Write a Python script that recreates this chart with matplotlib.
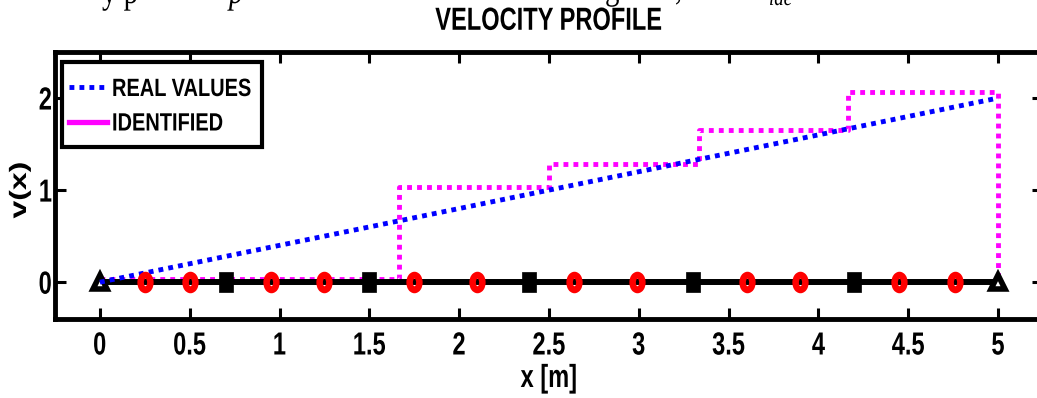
import numpy as np
import matplotlib
matplotlib.use('Agg')
import matplotlib.pyplot as plt
from matplotlib.path import Path
from matplotlib.lines import Line2D
from matplotlib.patches import Rectangle
from matplotlib.patheffects import AbstractPathEffect
from matplotlib.transforms import Affine2D

# ---------------- data ----------------
real_x = [0.0, 5.0]
real_v = [0.0, 2.0]
ident_edges = [0.0, 0.833, 1.667, 2.5, 3.333, 4.167, 5.0]
ident_vals = [0.03, 0.03, 1.03, 1.28, 1.65, 2.07]
boundary_x = [0.0, 5.0]
square_x = [0.70, 1.50, 2.39, 3.30, 4.20]
circle_x = [0.25, 0.50, 0.95, 1.25, 1.75, 2.10, 2.64, 2.99, 3.60, 3.90, 4.45, 4.76]
xticks = [0, 0.5, 1, 1.5, 2, 2.5, 3, 3.5, 4, 4.5, 5]
xticklabels = ['0', '0.5', '1', '1.5', '2', '2.5', '3', '3.5', '4', '4.5', '5']
yticks = [0, 1, 2]
yticklabels = ['0', '1', '2']
legend_labels = ['REAL VALUES', 'IDENTIFIED']
title = 'VELOCITY PROFILE'
xlabel = 'x [m]'
ylabel = 'v(x)'


class Squeeze(AbstractPathEffect):
    """Render text condensed (narrower glyphs), like the reference's squeezed type."""

    def __init__(self, sx=1.0, sy=1.0, frac=0.5):
        super().__init__()
        self.sx, self.sy, self.frac = sx, sy, frac

    def draw_path(self, renderer, gc, tpath, affine, rgbFace=None):
        try:
            ext = tpath.get_extents()
            w = ext.x1 if np.isfinite(ext.x1) else 0.0
        except Exception:
            w = 0.0
        pre = Affine2D().scale(self.sx, self.sy).translate((1 - self.sx) * w * self.frac, 0)
        renderer.draw_path(gc, tpath, pre + affine, rgbFace)


SQ = 0.74
FONT = ['Liberation Sans', 'DejaVu Sans']
plt.rcParams['font.family'] = FONT
plt.rcParams['font.weight'] = 'bold'

W, H = 1037, 398
fig = plt.figure(figsize=(W / 100, H / 100), dpi=100)
L, R, T, B = 55, 1043, 52, 319
ax = fig.add_axes([L / W, 1 - B / H, (R - L) / W, (B - T) / H])
ax.set_xlim(-0.25, 5.25)
ax.set_ylim(-0.4, 2.5)

DOT_LW = 3.5
DOTS = (1, 1.05)

# identified step profile
sx, sy = [], []
for i, v in enumerate(ident_vals):
    sx += [ident_edges[i], ident_edges[i + 1]]
    sy += [v, v]
sx.append(ident_edges[-1])
sy.append(0.0)
ax.plot(sx, sy, color='#ff00ff', lw=DOT_LW, dashes=DOTS, zorder=2)

# boundary line
ax.plot(boundary_x, [0, 0], color='k', lw=4.3, solid_capstyle='butt', zorder=3)

# triangles at ends
ax.plot(boundary_x, [0, 0], ls='none', marker='^', ms=10.3, mew=4,
        mec='k', mfc='white', zorder=4)

# real values
ax.plot(real_x, real_v, color='#0000ff', lw=DOT_LW, dashes=DOTS, zorder=5)

# square markers
sq = Path([(-0.35, -0.5), (0.35, -0.5), (0.35, 0.5), (-0.35, 0.5), (-0.35, -0.5)],
          [Path.MOVETO, Path.LINETO, Path.LINETO, Path.LINETO, Path.CLOSEPOLY])
ax.plot(square_x, [0] * len(square_x), ls='none', marker=sq, ms=14.4,
        mfc='k', mec='k', mew=0.5, zorder=6)

# ellipse markers (thick red ring with a small hole)
uc = Path.unit_circle()
ell = Path(uc.vertices * np.array([0.65, 1.0]), uc.codes)
ax.plot(circle_x, [0] * len(circle_x), ls='none', marker=ell, ms=10.8,
        mfc='none', mec='#ff0000', mew=4.7, zorder=6)

# axes styling
for s in ax.spines.values():
    s.set_linewidth(3.5)
ax.set_xticks(xticks)
ax.set_xticklabels(xticklabels)
ax.set_yticks(yticks)
ax.set_yticklabels(yticklabels)
ax.tick_params(axis='both', direction='in', length=8, width=2.2,
               top=True, right=True, labelsize=23)
ax.tick_params(axis='x', pad=9)
ax.tick_params(axis='y', pad=2)
for lab in ax.get_xticklabels():
    lab.set_fontweight('bold')
    lab.set_path_effects([Squeeze(sx=SQ, frac=0.5)])
for lab in ax.get_yticklabels():
    lab.set_fontweight('bold')
    lab.set_path_effects([Squeeze(sx=SQ, frac=1.0)])

t = ax.set_title(title, fontsize=23, fontweight='bold', pad=16)
t.set_path_effects([Squeeze(sx=SQ, frac=0.5)])
xl = ax.set_xlabel(xlabel, fontsize=23, fontweight='bold')
xl.set_path_effects([Squeeze(sx=SQ, frac=0.5)])
yl = ax.set_ylabel(ylabel, fontsize=23, fontweight='bold')
yl.set_path_effects([Squeeze(sy=SQ, frac=0.0)])
ax.xaxis.set_label_coords(0.5, (B - 364) / (B - T))
ax.yaxis.set_label_coords((33 - L) / (R - L), (B - 190) / (B - T))

# legend (frame drawn as a separate box so it fits the condensed text)
handles = [Line2D([], [], color='#0000ff', lw=DOT_LW, dashes=DOTS),
           Line2D([], [], color='#ff00ff', lw=3.8)]
leg = ax.legend(handles, legend_labels, loc='upper left',
                bbox_to_anchor=(69 / W, 1 - 77 / H), bbox_transform=fig.transFigure,
                borderaxespad=0, frameon=False,
                prop={'size': 18, 'weight': 'bold'}, handlelength=1.52,
                handletextpad=0.2, labelspacing=0.42, borderpad=0)
leg.set_zorder(8)
for txt in leg.get_texts():
    txt.set_path_effects([Squeeze(sx=0.8, frac=0.0)])
ax.add_patch(Rectangle((62 / W, 1 - 147 / H), 200 / W, 85 / H, transform=fig.transFigure,
                       facecolor='white', edgecolor='k', lw=3, zorder=7, clip_on=False))

# clipped fragments of surrounding page text at the top edge
serif = ['Liberation Serif', 'DejaVu Serif']
frag = dict(family=serif, weight='normal', va='baseline')
for tx, ty, s, sz, st in [(102, 3, 'y p', 26, 'normal'), (229, 3, 'p', 26, 'italic'),
                          (605, -1, 'g', 26, 'normal'), (675, -1, ',', 26, 'normal'),
                          (769, 5, 'ide', 17, 'italic')]:
    ft = fig.text(tx / W, 1 - ty / H, s, fontsize=sz, style=st, **frag)
    ft.set_path_effects([Squeeze(sx=0.8, frac=0.0)])

fig.savefig('out.png', dpi=100)
